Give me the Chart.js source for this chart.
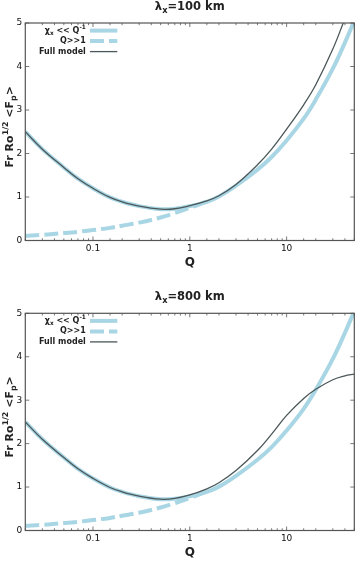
<!DOCTYPE html>
<html>
<head>
<meta charset="utf-8">
<script src="https://cdn.jsdelivr.net/npm/chart.js@4/dist/chart.umd.min.js"></script>
<style>
  body { margin: 0; background: #fff; }
  canvas { position: absolute; left: 0; }
</style>
</head>
<body>
<canvas id="top" width="363" height="280" style="top:0"></canvas>
<canvas id="bottom" width="363" height="281" style="top:280px"></canvas>
<script>

// Q values (log axis) shared by every curve
const qValues = [0.02, 0.03, 0.05, 0.07, 0.1, 0.15, 0.2, 0.3, 0.5, 0.7, 1, 1.5, 2, 3, 5, 7, 10, 15, 20, 30, 40, 50];

// chi_x << Q^-1 limit (same in both panels)
const smallChi = [2.50, 2.10, 1.68, 1.42, 1.20, 0.99, 0.89, 0.79, 0.72, 0.73, 0.79, 0.89, 1.01, 1.26, 1.63, 1.92, 2.30, 2.80, 3.24, 3.95, 4.55, 5.05];

// Q >> 1 limit
const largeQ = [0.11, 0.13, 0.17, 0.20, 0.24, 0.29, 0.34, 0.41, 0.53, 0.63, 0.75, 0.90, null, null, null, null, null, null, null, null, null, null];

// full model, lambda_x = 100 km
const full100 = [2.50, 2.10, 1.68, 1.42, 1.20, 0.99, 0.89, 0.79, 0.72, 0.73, 0.80, 0.91, 1.03, 1.29, 1.74, 2.10, 2.56, 3.12, 3.58, 4.40, 5.10, null];

// full model, lambda_x = 800 km
const full800 = [2.50, 2.10, 1.68, 1.42, 1.20, 0.99, 0.89, 0.79, 0.72, 0.74, 0.82, 0.96, 1.10, 1.38, 1.84, 2.22, 2.65, 3.04, 3.25, 3.47, 3.56, 3.60];

const qTickLabels = [0.1, 1, 10];
const yTicks = [0, 1, 2, 3, 4, 5];

const legendLabels = ["χ_{x} << Q^{-1}", "Q>>1", "Full model"];
const yLabel = "Fr Ro^{1/2} <F_{p}>";

const FONT = '"DejaVu Sans"';
const BLUE = "#a9d6e4";
const DARK = "#4b5759";

Chart.defaults.font.family = FONT;

function isDecade(v) {
    const l = Math.log10(v);
    return Math.abs(l - Math.round(l)) < 1e-6;
}

// small text with _{sub} and ^{sup}
function parseRich(str) {
    const parts = [];
    const re = /([_^])\{([^}]*)\}|([^_^]+)/g;
    let m;
    while ((m = re.exec(str))) {
        if (m[3]) parts.push({ t: m[3], k: 0 });
        else parts.push({ t: m[2], k: m[1] === "^" ? 1 : -1 });
    }
    return parts;
}

function drawRich(ctx, str, x, y, size, weight, align) {
    const parts = parseRich(str);
    const fontFor = p => `${weight} ${p.k ? size * 0.72 : size}px ${FONT}`;
    let w = 0;
    parts.forEach(p => {
        ctx.font = fontFor(p);
        p.w = ctx.measureText(p.t).width;
        w += p.w;
    });
    let cx = align === "center" ? x - w / 2 : align === "right" ? x - w : x;
    ctx.textAlign = "left";
    ctx.textBaseline = "middle";
    parts.forEach(p => {
        ctx.font = fontFor(p);
        const dy = p.k === 1 ? -size * 0.4 : p.k === -1 ? size * 0.32 : 0;
        ctx.fillText(p.t, cx, y + dy);
        cx += p.w;
    });
}

const decor = {
    id: "decor",
    afterDraw(chart, args, opts) {
        const { ctx, chartArea: a, scales: { x, y } } = chart;
        ctx.save();

        // frame + inward ticks
        ctx.strokeStyle = "#555";
        ctx.lineWidth = 1.2;
        ctx.strokeRect(a.left, a.top, a.right - a.left, a.bottom - a.top);

        ctx.lineWidth = 0.8;
        ctx.beginPath();
        x.ticks.forEach(t => {
            const px = x.getPixelForValue(t.value);
            const len = isDecade(t.value) ? 4 : 2.2;
            ctx.moveTo(px, a.bottom);
            ctx.lineTo(px, a.bottom - len);
            ctx.moveTo(px, a.top);
            ctx.lineTo(px, a.top + len);
        });
        y.ticks.forEach(t => {
            const py = y.getPixelForValue(t.value);
            ctx.moveTo(a.left, py);
            ctx.lineTo(a.left + 4, py);
            ctx.moveTo(a.right, py);
            ctx.lineTo(a.right - 4, py);
        });
        ctx.stroke();

        ctx.fillStyle = "#222";

        // panel title
        drawRich(ctx, opts.title, (a.left + a.right) / 2, a.top - 16, 11.5, "bold", "center");

        // y label, rotated
        ctx.save();
        ctx.translate(10, (a.top + a.bottom) / 2 - 5);
        ctx.rotate(-Math.PI / 2);
        drawRich(ctx, yLabel, 0, 0, 11, "bold", "center");
        ctx.restore();

        // legend
        chart.data.datasets.forEach((ds, i) => {
            const ry = a.top + 7.6 + i * 10.5;
            ctx.fillStyle = "#222";
            drawRich(ctx, ds.label, a.left + 60.5, ry, 8, "bold", "right");
            ctx.strokeStyle = ds.borderColor;
            ctx.lineWidth = ds.borderWidth;
            ctx.setLineDash(ds.borderDash || []);
            ctx.beginPath();
            ctx.moveTo(a.left + 64.7, ry);
            ctx.lineTo(a.left + 92, ry);
            ctx.stroke();
            ctx.setLineDash([]);
        });

        ctx.restore();
    }
};

function makeChart(id, fullValues, title, topPad, xAxisHeight, qPadBottom) {

    const pts = arr => qValues.map((q, i) => ({ x: q, y: arr[i] }));

    new Chart(document.getElementById(id), {

        type: "line",

        data: {
            datasets: [
                {
                    label: legendLabels[0],
                    data: pts(smallChi),
                    borderColor: BLUE,
                    borderWidth: 4,
                    order: 1
                },
                {
                    label: legendLabels[1],
                    data: pts(largeQ),
                    borderColor: BLUE,
                    borderWidth: 4,
                    borderDash: [14, 5],
                    order: 2
                },
                {
                    label: legendLabels[2],
                    data: pts(fullValues),
                    borderColor: DARK,
                    borderWidth: 1.3,
                    order: 0
                }
            ]
        },

        options: {
            responsive: false,
            animation: false,
            layout: {
                padding: { top: topPad, right: 8.7, left: 0, bottom: 0 }
            },
            elements: {
                point: { radius: 0 },
                line: { tension: 0.4, borderCapStyle: "butt" }
            },
            datasets: {
                line: { clip: 0, spanGaps: false }
            },
            plugins: {
                legend: { display: false },
                tooltip: { enabled: false },
                decor: { title }
            },
            scales: {
                x: {
                    type: "logarithmic",
                    min: 0.02,
                    max: 50,
                    grid: { display: false, drawTicks: false },
                    border: { display: false },
                    afterFit: s => { s.height = xAxisHeight; },
                    ticks: {
                        autoSkip: false,
                        maxRotation: 0,
                        padding: 3,
                        color: "#111",
                        font: { size: 9 },
                        callback: v => qTickLabels.some(t => Math.abs(t - v) < 1e-9) ? String(v) : ""
                    },
                    title: {
                        display: true,
                        text: "Q",
                        color: "#222",
                        font: { size: 12, weight: "bold" },
                        padding: { top: 0, bottom: qPadBottom }
                    }
                },
                y: {
                    min: yTicks[0],
                    max: yTicks[yTicks.length - 1],
                    grid: { display: false, drawTicks: false },
                    border: { display: false },
                    afterFit: s => { s.width = 25.3; },
                    afterBuildTicks: s => { s.ticks = yTicks.map(v => ({ value: v })); },
                    ticks: {
                        padding: 3,
                        color: "#111",
                        font: { size: 9 }
                    }
                }
            }
        },

        plugins: [decor]

    });

}

makeChart("top", full100, "λ_{x}=100 km", 23, 39.5, 9.8);
makeChart("bottom", full800, "λ_{x}=800 km", 33.3, 30.5, 1.1);

</script>
</body>
</html>
